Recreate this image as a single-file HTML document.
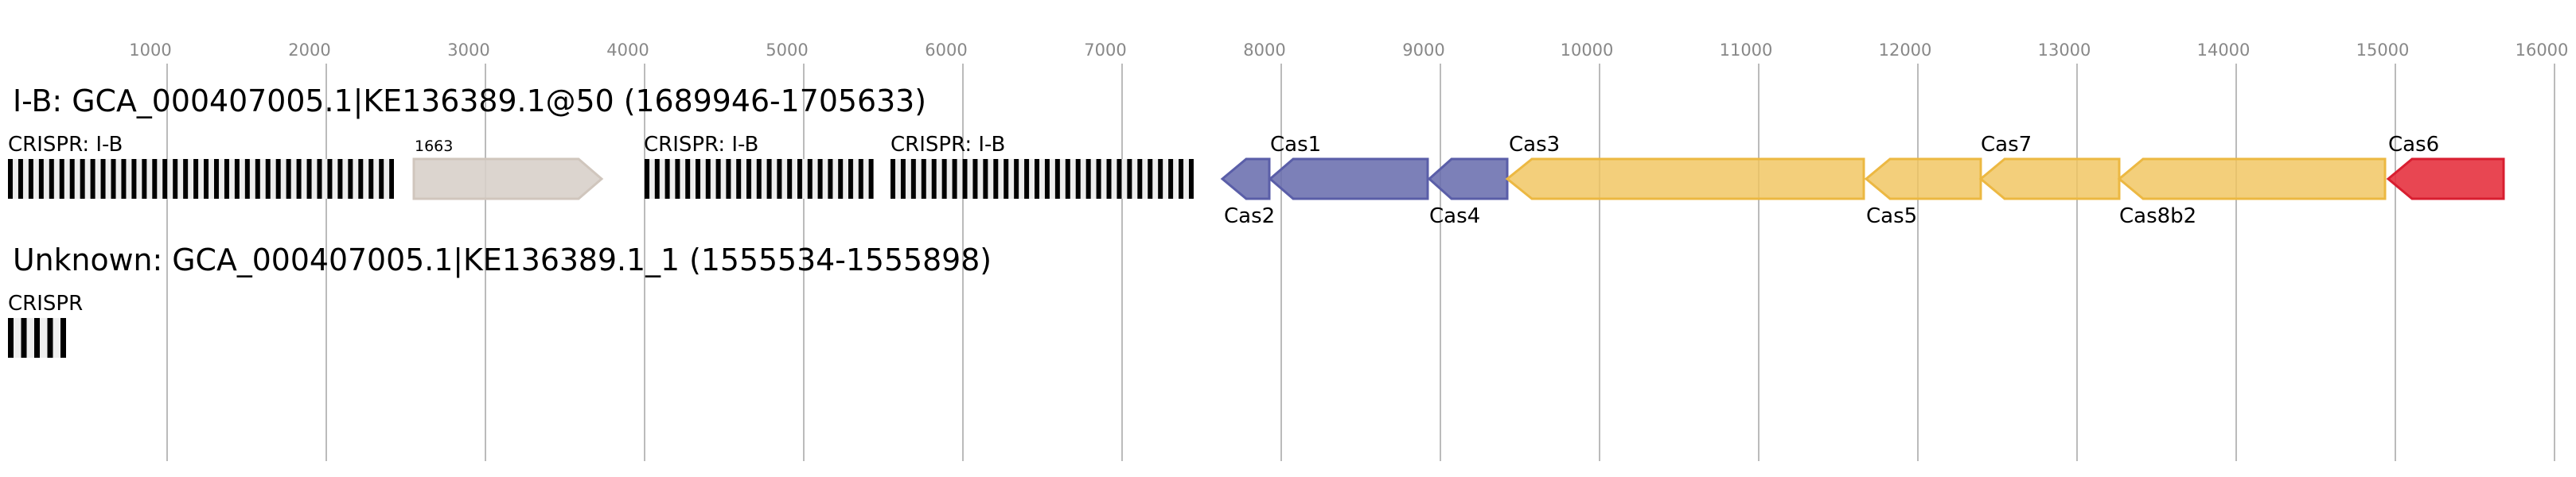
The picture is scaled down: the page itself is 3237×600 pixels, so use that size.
<!DOCTYPE html>
<html><head><meta charset="utf-8"><style>
html,body{margin:0;padding:0;background:#fff;}
svg{display:block;font-family:"DejaVu Sans","Liberation Sans",sans-serif;}
</style></head><body>
<svg width="3237" height="600" viewBox="0 0 3237 600" xmlns="http://www.w3.org/2000/svg">
<defs>
<pattern id="c1" x="10" y="0" width="12.95" height="10" patternUnits="userSpaceOnUse"><rect width="12.95" height="10" fill="#eeeeee"/><rect width="6" height="10" fill="#000"/></pattern>
<pattern id="c2" x="810" y="0" width="12.8" height="10" patternUnits="userSpaceOnUse"><rect width="12.8" height="10" fill="#eeeeee"/><rect width="6" height="10" fill="#000"/></pattern>
<pattern id="c3" x="1119" y="0" width="12.93" height="10" patternUnits="userSpaceOnUse"><rect width="12.93" height="10" fill="#eeeeee"/><rect width="6" height="10" fill="#000"/></pattern>
<pattern id="c4" x="10" y="0" width="16.5" height="10" patternUnits="userSpaceOnUse"><rect width="16.5" height="10" fill="#eeeeee"/><rect width="7" height="10" fill="#000"/></pattern>
</defs>
<g stroke="#bbbbbb" stroke-width="2">
<line x1="210" y1="80" x2="210" y2="580"/><line x1="410" y1="80" x2="410" y2="580"/><line x1="610" y1="80" x2="610" y2="580"/><line x1="810" y1="80" x2="810" y2="580"/><line x1="1010" y1="80" x2="1010" y2="580"/><line x1="1210" y1="80" x2="1210" y2="580"/><line x1="1410" y1="80" x2="1410" y2="580"/><line x1="1610" y1="80" x2="1610" y2="580"/><line x1="1810" y1="80" x2="1810" y2="580"/><line x1="2010" y1="80" x2="2010" y2="580"/><line x1="2210" y1="80" x2="2210" y2="580"/><line x1="2410" y1="80" x2="2410" y2="580"/><line x1="2610" y1="80" x2="2610" y2="580"/><line x1="2810" y1="80" x2="2810" y2="580"/><line x1="3010" y1="80" x2="3010" y2="580"/><line x1="3210" y1="80" x2="3210" y2="580"/>
</g>
<g fill="#888" font-size="21" text-anchor="middle">
<text x="189" y="70">1000</text><text x="389" y="70">2000</text><text x="589" y="70">3000</text><text x="789" y="70">4000</text><text x="989" y="70">5000</text><text x="1189" y="70">6000</text><text x="1389" y="70">7000</text><text x="1589" y="70">8000</text><text x="1789" y="70">9000</text><text x="1994" y="70">10000</text><text x="2194" y="70">11000</text><text x="2394" y="70">12000</text><text x="2594" y="70">13000</text><text x="2794" y="70">14000</text><text x="2994" y="70">15000</text><text x="3194" y="70">16000</text>
</g>
<text x="16" y="140" font-size="38" textLength="1148" lengthAdjust="spacingAndGlyphs">I-B: GCA_000407005.1|KE136389.1@50 (1689946-1705633)</text>
<text x="16" y="340" font-size="38" textLength="1230" lengthAdjust="spacingAndGlyphs">Unknown: GCA_000407005.1|KE136389.1_1 (1555534-1555898)</text>
<g font-size="26">
<text x="10" y="190">CRISPR: I-B</text><text x="809" y="190">CRISPR: I-B</text><text x="1119" y="190">CRISPR: I-B</text>
<text x="10" y="390">CRISPR</text>
<text x="1596" y="190">Cas1</text><text x="1896" y="190">Cas3</text><text x="2489" y="190">Cas7</text><text x="3001" y="190">Cas6</text>
<text x="1538" y="280">Cas2</text><text x="1796" y="280">Cas4</text><text x="2345" y="280">Cas5</text><text x="2663" y="280">Cas8b2</text>
</g>
<text x="521" y="190" font-size="19">1663</text>
<rect x="10" y="200" width="485" height="50" fill="url(#c1)"/>
<rect x="810" y="200" width="288" height="50" fill="url(#c2)"/>
<rect x="1119" y="200" width="381" height="50" fill="url(#c3)"/>
<rect x="10" y="400" width="73" height="50" fill="url(#c4)"/>
<g stroke-width="3">
<polygon points="520,200 727,200 756,225 727,250 520,250" fill="#d8d0ca" fill-opacity="0.9" stroke="#d0c6bd"/>
<g fill="#6a6eae" fill-opacity="0.88" stroke="#5a5ea8">
<polygon points="1536,225 1566,200 1595,200 1595,250 1566,250"/>
<polygon points="1596,225 1625,200 1794,200 1794,250 1625,250"/>
<polygon points="1796,225 1824,200 1894,200 1894,250 1824,250"/>
</g>
<g fill="#f0c45e" fill-opacity="0.82" stroke="#ecb842">
<polygon points="1894,225 1925,200 2342,200 2342,250 1925,250"/>
<polygon points="2345,225 2375,200 2489,200 2489,250 2375,250"/>
<polygon points="2489,225 2519,200 2663,200 2663,250 2519,250"/>
<polygon points="2663,225 2693,200 2997,200 2997,250 2693,250"/>
</g>
<polygon points="3001,225 3031,200 3146,200 3146,250 3031,250" fill="#e6323f" fill-opacity="0.9" stroke="#d81e30"/>
</g>
</svg>
</body></html>
